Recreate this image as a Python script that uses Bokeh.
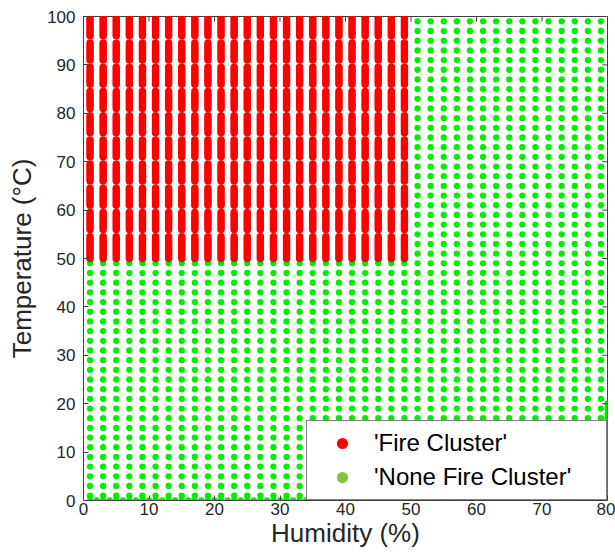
from bokeh.plotting import figure
from bokeh.models import Legend, LegendItem, FixedTicker, Range1d
from bokeh.embed import file_html
from bokeh.resources import INLINE

# ---------------- data ----------------
humidity_grid = [1, 3, 5, 7, 9, 11, 13, 15, 17, 19, 21, 23, 25, 27, 29, 31, 33, 35, 37, 39,
                 41, 43, 45, 47, 49, 51, 53, 55, 57, 59, 61, 63, 65, 67, 69, 71, 73, 75, 77, 79]
temperature_grid = [1, 3, 5, 7, 9, 11, 13, 15, 17, 19, 21, 23, 25, 27, 29, 31, 33, 35, 37, 39,
                    41, 43, 45, 47, 49, 51, 53, 55, 57, 59, 61, 63, 65, 67, 69, 71, 73, 75, 77, 79,
                    81, 83, 85, 87, 89, 91, 93, 95, 97, 99]
fire_temperature = [50, 50.5, 51, 51.5, 52, 52.5, 53, 53.5, 54, 54.5,
                    56, 56.5, 57, 57.5, 58, 58.5, 59, 59.5,
                    61, 61.5, 62, 62.5, 63, 63.5, 64, 64.5,
                    66, 66.5, 67, 67.5, 68, 68.5, 69, 69.5,
                    71, 71.5, 72, 72.5, 73, 73.5, 74, 74.5,
                    76, 76.5, 77, 77.5, 78, 78.5, 79, 79.5,
                    81, 81.5, 82, 82.5, 83, 83.5, 84, 84.5,
                    86, 86.5, 87, 87.5, 88, 88.5, 89, 89.5,
                    91, 91.5, 92, 92.5, 93, 93.5, 94, 94.5,
                    96, 96.5, 97, 97.5, 98, 98.5, 99, 99.5, 100]
baseline_humidity = [1, 2, 3, 4, 5, 6, 7, 8, 9, 10, 11, 12, 13, 14, 15, 16, 17, 18, 19, 20,
                     21, 22, 23, 24, 25, 26, 27, 28, 29, 30, 31, 32, 33, 34, 35, 36, 37, 38, 39, 40,
                     41, 42, 43, 44, 45, 46, 47, 48, 49, 50, 51, 52, 53, 54, 55, 56, 57, 58, 59, 60,
                     61, 62, 63, 64, 65, 66, 67, 68, 69, 70, 71, 72, 73, 74, 75, 76, 77, 78, 79, 80]
edge_temperature = [0, 1, 2, 3, 4, 5, 6, 7, 8, 9, 10, 11, 12, 13, 14, 15, 16, 17, 18, 19, 20]
fire_humidity_limit = 50
fire_temperature_limit = 50
x_ticks = [0, 10, 20, 30, 40, 50, 60, 70, 80]
y_ticks = [0, 10, 20, 30, 40, 50, 60, 70, 80, 90, 100]
x_min, x_max = 0, 80
y_min, y_max = 0, 100

# ---------------- build point tables ----------------
none_x, none_y = [], []
for h in humidity_grid:
    for t in temperature_grid:
        if not (h < fire_humidity_limit and t > fire_temperature_limit):
            none_x.append(h)
            none_y.append(t)
for h in baseline_humidity:
    none_x.append(h)
    none_y.append(y_min)
for t in edge_temperature:
    none_x.append(x_max)
    none_y.append(t)

fire_x, fire_y = [], []
for h in humidity_grid:
    if h < fire_humidity_limit:
        for t in fire_temperature:
            fire_x.append(h)
            fire_y.append(t)

FONT = "Liberation Sans"
AX = "#404040"
TXT = "#262626"

p = figure(width=615, height=554, output_backend="svg", toolbar_location=None,
           x_range=Range1d(x_min, x_max), y_range=Range1d(y_min, y_max),
           min_border_left=83, min_border_right=8, min_border_top=16, min_border_bottom=54)
p.xgrid.visible = False
p.ygrid.visible = False
p.outline_line_color = AX
p.outline_line_width = 1
p.background_fill_color = "white"

p.scatter(x=none_x, y=none_y, size=6.3, color="#00ee00", line_width=0)
p.scatter(x=fire_x, y=fire_y, size=7.5, color="#ff0000", line_width=0)

# inward ticks on the top and right edges of the box (MATLAB style)
tick_len_x = 0.8   # data units along x (~5 px)
tick_len_y = 1.05  # data units along y (~5 px)
p.segment(x0=x_ticks, y0=[y_max] * len(x_ticks), x1=x_ticks,
          y1=[y_max - tick_len_y] * len(x_ticks), line_color=AX, line_width=1)
p.segment(x0=[x_max] * len(y_ticks), y0=y_ticks, x1=[x_max - tick_len_x] * len(y_ticks),
          y1=y_ticks, line_color=AX, line_width=1)

# legend proxies (no visible points)
nan = float("nan")
leg_fire = p.scatter(x=[nan], y=[nan], color="#ff0000", line_width=0)
leg_none = p.scatter(x=[nan], y=[nan], color="#86c440", line_width=0)

xa = p.xaxis[0]
xa.ticker = FixedTicker(ticks=x_ticks)
xa.minor_tick_line_color = None
xa.major_tick_in = 5
xa.major_tick_out = 0
xa.axis_line_color = AX
xa.major_tick_line_color = AX
xa.major_label_text_font = FONT
xa.major_label_text_font_size = "17px"
xa.major_label_text_color = TXT
xa.major_label_standoff = 2
xa.axis_label = "Humidity (%)"
xa.axis_label_text_font = FONT
xa.axis_label_text_font_size = "26px"
xa.axis_label_text_font_style = "normal"
xa.axis_label_text_color = TXT
xa.axis_label_standoff = 0

ya = p.yaxis[0]
ya.ticker = FixedTicker(ticks=y_ticks)
ya.minor_tick_line_color = None
ya.major_tick_in = 5
ya.major_tick_out = 0
ya.axis_line_color = AX
ya.major_tick_line_color = AX
ya.major_label_text_font = FONT
ya.major_label_text_font_size = "17px"
ya.major_label_text_color = TXT
ya.major_label_standoff = 8
ya.axis_label = "Temperature (\u00b0C)"
ya.axis_label_text_font = FONT
ya.axis_label_text_font_size = "26px"
ya.axis_label_text_font_style = "normal"
ya.axis_label_text_color = TXT
ya.axis_label_standoff = 7

legend = Legend(items=[LegendItem(label="'Fire Cluster'", renderers=[leg_fire]),
                       LegendItem(label="'None Fire Cluster'", renderers=[leg_none])],
                location="bottom_right", margin=0, padding=8, spacing=6,
                glyph_width=54, glyph_height=28, label_standoff=5,
                label_width=224, label_height=28,
                label_text_font=FONT, label_text_font_size="24px", label_text_color="black",
                border_line_color="black", border_line_width=1,
                background_fill_color="white", background_fill_alpha=1.0)
p.add_layout(legend)

open("out.html", "w").write(file_html(p, INLINE))
